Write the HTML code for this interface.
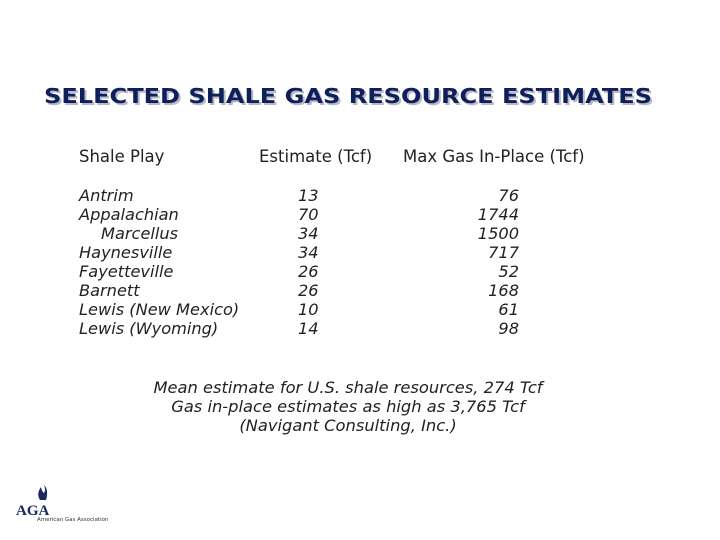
<!DOCTYPE html>
<html><head><meta charset="utf-8"><style>
html,body{margin:0;padding:0;background:#fff;}
svg{display:block;font-family:"DejaVu Sans","Liberation Sans",sans-serif;}
</style></head><body>
<svg width="720" height="540" viewBox="0 0 720 540">
<text x="46" y="105" font-size="20" font-weight="bold" fill="#b8b8c8" textLength="608" lengthAdjust="spacingAndGlyphs">SELECTED SHALE GAS RESOURCE ESTIMATES</text>
<text x="44" y="103" font-size="20" font-weight="bold" fill="#0f1f5a" textLength="608" lengthAdjust="spacingAndGlyphs">SELECTED SHALE GAS RESOURCE ESTIMATES</text>
<g font-size="16.5" fill="#222">
<text x="79" y="162">Shale Play</text>
<text x="259" y="162">Estimate (Tcf)</text>
<text x="403" y="162">Max Gas In-Place (Tcf)</text>
</g>
<g id="rows" font-size="16.2" font-style="italic" fill="#222"></g>
<g font-size="16.3" font-style="italic" fill="#222" text-anchor="middle">
<text x="348" y="393">Mean estimate for U.S. shale resources, 274 Tcf</text>
<text x="348" y="412">Gas in-place estimates as high as 3,765 Tcf</text>
<text x="348" y="431">(Navigant Consulting, Inc.)</text>
</g>
<g>
<path d="M40 500 q-4 -6 1 -13 q1 5 3 6 q2 -3 0 -8 q5 5 2 15 z" fill="#1a2a60"/>
<text x="16" y="515" font-family="Liberation Serif,serif" font-size="15" fill="#1a2a60" font-weight="bold">AGA</text>
<text x="37" y="521" font-size="5.5" fill="#333">American Gas Association</text>
</g>
</svg>
<script>
const plays=["Antrim","Appalachian","   Marcellus","Haynesville","Fayetteville","Barnett","Lewis (New Mexico)","Lewis (Wyoming)"];
const estimates=[13,70,34,34,26,26,10,14];
const maxInPlace=[76,1744,1500,717,52,168,61,98];
const g=document.getElementById('rows');
const NS='http://www.w3.org/2000/svg';
plays.forEach((p,i)=>{
  const y=201+i*19;
  const a=document.createElementNS(NS,'text');
  
  
  a.setAttribute('x',p.startsWith(' ')?101:79);a.setAttribute('y',y);a.textContent=p.trim();g.appendChild(a);
  const b=document.createElementNS(NS,'text');
  
  
  b.setAttribute('x',298);b.setAttribute('y',y);b.textContent=estimates[i];g.appendChild(b);
  const c=document.createElementNS(NS,'text');
  
  
  c.setAttribute('x',519);c.setAttribute('y',y);c.setAttribute('text-anchor','end');c.textContent=maxInPlace[i];g.appendChild(c);
});
</script>
</body></html>
